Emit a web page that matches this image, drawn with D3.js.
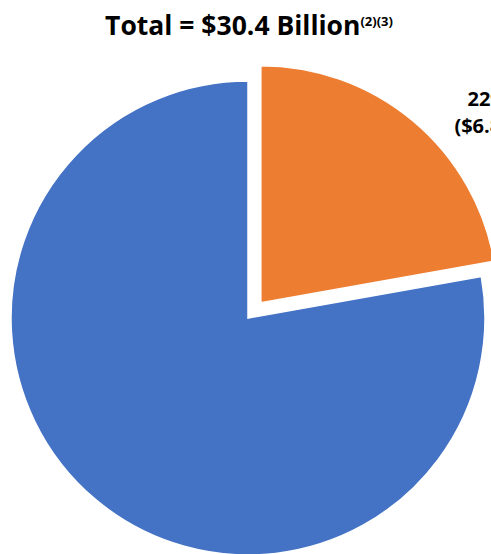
<!DOCTYPE html>
<html lang="en">
<head>
    <meta charset="UTF-8">
    <title>Total = $30.4 Billion</title>
    <script src="https://d3js.org/d3.v7.min.js"></script>
    <style>
        * { margin: 0; padding: 0; }
        body { background: #fff; overflow: hidden; }
        svg { display: block; font-family: "Open Sans", Lato, sans-serif; }
    </style>
</head>
<body>
    <div id="chart"></div>
    <script>
        // segments, in billions of dollars (orange first, clockwise from 12 o'clock)
        const categories = ["Segment", "Other"];
        const values = [6.75, 23.65];
        const colors = ["#ED7D31", "#4472C4"];
        const pctLabels = ["22%", ""];
        const amtLabels = ["($6.8B)", ""];
        const exploded = [true, false];

        const width = 491, height = 554;
        const cx = 248, cy = 318, radius = 237;

        const svg = d3.select("#chart").append("svg")
            .attr("width", width)
            .attr("height", height);

        // titulo
        const title = svg.append("text")
            .attr("x", 249)
            .attr("y", 35)
            .attr("text-anchor", "middle")
            .style("font-weight", "bold")
            .style("font-size", "26.5px")
            .style("fill", "#000");
        title.append("tspan").text("Total = $30.4 Billion");
        title.append("tspan")
            .attr("dy", -9)
            .style("font-size", "13px")
            .text("(2)(3)");

        const pie = d3.pie().sort(null).value(d => d);
        const arcs = pie(values);
        const arc = d3.arc().innerRadius(0).outerRadius(radius);

        const g = svg.append("g").attr("transform", `translate(${cx},${cy})`);

        g.selectAll("path")
            .data(arcs)
            .join("path")
            .attr("d", arc)
            .attr("fill", (d, i) => colors[i])
            .attr("stroke", "#fff")
            .attr("stroke-width", 1.5)
            .attr("transform", (d, i) => {
                if (!exploded[i]) return null;
                const a = (d.startAngle + d.endAngle) / 2;
                return `translate(${20 * Math.sin(a)},${-20 * Math.cos(a)})`;
            });

        // etiqueta del segmento separado
        const lab = g.selectAll(".lab")
            .data(arcs.filter((d, i) => pctLabels[i] !== ""))
            .join("text")
            .attr("class", "lab")
            .attr("text-anchor", "middle")
            .style("font-weight", "bold")
            .style("font-size", "20px")
            .style("fill", "#000")
            .attr("transform", d => {
                const a = (d.startAngle + d.endAngle) / 2 + 0.15;
                return `translate(${320 * Math.sin(a)},${-320 * Math.cos(a)})`;
            });
        lab.append("tspan").attr("x", 0).attr("dy", 0).text((d) => pctLabels[d.index]);
        lab.append("tspan").attr("x", 0).attr("dy", 27).text((d) => amtLabels[d.index]);
    </script>
</body>
</html>
